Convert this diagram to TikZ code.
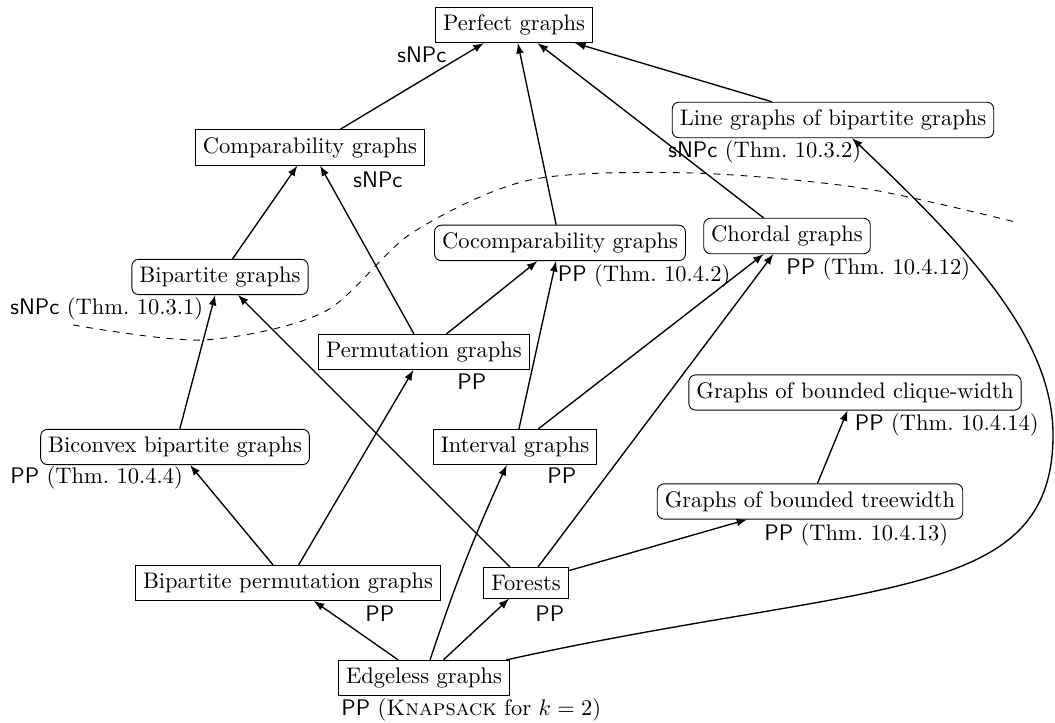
\documentclass[tikz,border=0pt]{standalone}
\begin{document}
\begin{tikzpicture}[x=1mm,y=1mm,>=latex,
    cls/.style={draw},
    rcls/.style={draw,rounded corners=3pt},
    cplx/.style={anchor=base west,inner sep=0pt}]
  \useasboundingbox (0,0) rectangle (164.79,112.93);
  % graph classes
  \node[cls] (perfect) at (80.29,109.03) {Perfect graphs};
  \node[cls] (comp) at (48.42,89.89) {Comparability graphs};
  \node[rcls] (linebip) at (130.11,94.19) {Line graphs of bipartite graphs};
  \node[rcls] (bip) at (34.36,69.67) {Bipartite graphs};
  \node[rcls] (cocomp) at (87.47,74.98) {Cocomparability graphs};
  \node[rcls] (chordal) at (122.93,76.07) {Chordal graphs};
  \node[cls] (perm) at (66.23,57.95) {Permutation graphs};
  \node[rcls] (biconvex) at (27.34,43.11) {Biconvex bipartite graphs};
  \node[cls] (interval) at (80.44,43.11) {Interval graphs};
  \node[rcls] (cliquew) at (133.55,51.62) {Graphs of bounded clique-width};
  \node[rcls] (treew) at (126.52,34.60) {Graphs of bounded treewidth};
  \node[cls] (bipperm) at (44.99,21.87) {Bipartite permutation graphs};
  \node[cls] (forests) at (82.16,21.87) {Forests};
  \node[cls] (edgeless) at (66.23,7.03) {Edgeless graphs};
  % complexities
  \node[cplx] (perfectc) at (62.01,103.09) {\textsf{sNPc}};
  \node[cplx] (compc) at (55.14,83.57) {\textsf{sNPc}};
  \node[cplx] (bipc) at (1.56,63.73) {\textsf{sNPc} (Thm.~10.3.1)};
  \node[cplx] (linebipc) at (104.34,88.25) {\textsf{sNPc} (Thm.~10.3.2)};
  \node[cplx] (cocompc) at (87.08,68.88) {\textsf{PP} (Thm.~10.4.2)};
  \node[cplx] (chordalc) at (122.77,69.98) {\textsf{PP} (Thm.~10.4.12)};
  \node[cplx] (permc) at (71.38,52.01) {\textsf{PP}};
  \node[cplx] (biconvexc) at (1.56,37.33) {\textsf{PP} (Thm.~10.4.4)};
  \node[cplx] (intervalc) at (85.44,37.33) {\textsf{PP}};
  \node[cplx] (cliquewc) at (133.47,45.66) {\textsf{PP} (Thm.~10.4.14)};
  \node[cplx] (treewc) at (119.34,28.58) {\textsf{PP} (Thm.~10.4.13)};
  \node[cplx] (bippermc) at (57.01,15.78) {\textsf{PP}};
  \node[cplx] (forestsc) at (83.57,15.78) {\textsf{PP}};
  \node[cplx] (edgelessc) at (53.26,1.09) {\textsf{PP} (\textsc{Knapsack} for $k=2$)};
  % inclusions
  \draw[->,semithick] (comp) -- (perfect);
  \draw[->,semithick] (cocomp) -- (perfect);
  \draw[->,semithick] (chordal) -- (perfect);
  \draw[->,semithick] (linebip) -- (perfect);
  \draw[->,semithick] (bip) -- (comp);
  \draw[->,semithick] (perm) -- (comp);
  \draw[->,semithick] (perm) -- (cocomp);
  \draw[->,semithick] (interval) -- (cocomp);
  \draw[->,semithick] (interval) -- (chordal);
  \draw[->,semithick] (forests) -- (chordal);
  \draw[->,semithick] (forests) -- (bip);
  \draw[->,semithick] (forests) -- (treew);
  \draw[->,semithick] (treew) -- (cliquew);
  \draw[->,semithick] (biconvex) -- (bip);
  \draw[->,semithick] (bipperm) -- (biconvex);
  \draw[->,semithick] (bipperm) -- (perm);
  \draw[->,semithick] (edgeless) -- (bipperm);
  \draw[->,semithick] (edgeless) -- (forests);
  \draw[->,semithick] (edgeless) to[bend left=3] (interval);
  \coordinate (turn) at (164.48,44.99);
  \draw[->,semithick] (edgeless) .. controls (135.89,22.34) and (164.48,18.43) .. (turn)
    .. controls (164.48,60.61) and (150.26,74.98) .. (linebip);
  % hardness border
  \draw[dashed] plot[smooth] coordinates {(11.40,62.17) (31.71,59.82) (50.61,64.20) (64.35,76.54) (82.79,84.82) (107.93,85.91) (134.49,83.57) (158.54,78.26)};
\end{tikzpicture}
\end{document}
